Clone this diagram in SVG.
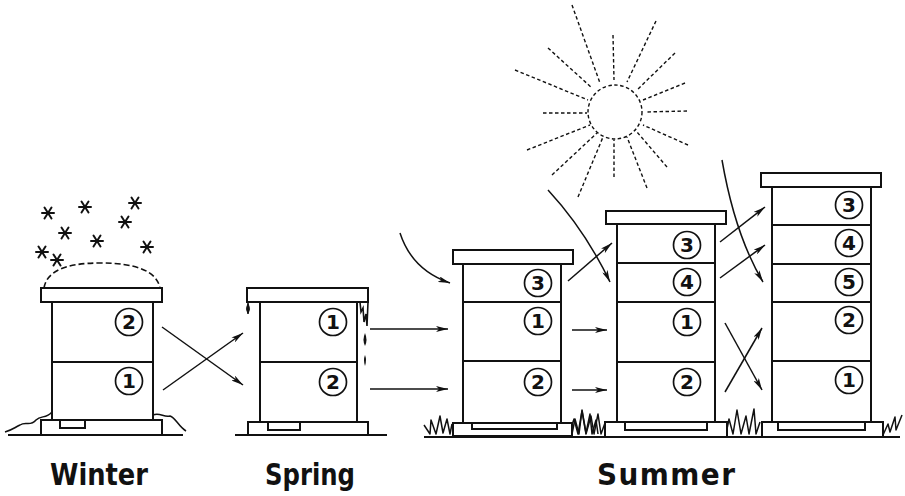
<svg xmlns="http://www.w3.org/2000/svg" width="905" height="496" viewBox="0 0 905 496">
  <style>
    .box { fill: #fff; stroke: #111; stroke-width: 2; }
    .ln { fill: none; stroke: #111; stroke-width: 2; }
    .arr { fill: none; stroke: #111; stroke-width: 1.5; marker-end: url(#ah); }
    .num-c { fill: #fff; stroke: #111; stroke-width: 1.7; }
    .num { font-family: "DejaVu Sans", "Liberation Sans", sans-serif; font-weight: bold; font-size: 20px; text-anchor: middle; fill: #111; }
    .ray { fill: none; stroke: #111; stroke-width: 1.4; stroke-dasharray: 3.5 2.5; }
    .grass { fill: none; stroke: #111; stroke-width: 1.5; stroke-linejoin: round; }
    .snow { fill: none; stroke: #111; stroke-width: 2; stroke-linecap: round; }
    .lbl { font-family: "DejaVu Sans Condensed", "DejaVu Sans", sans-serif; font-weight: bold; font-size: 31px; fill: #111; }
  </style>
  <defs>
    <marker id="ah" viewBox="0 0 12 6" refX="12" refY="3" markerWidth="12" markerHeight="6" markerUnits="userSpaceOnUse" orient="auto">
      <path d="M0,0 L12,3 L0,6 L3,3 z" fill="#111"/>
    </marker>
    <g id="flake">
      <path d="M-6,0 H6 M-3.5,-5.5 L3.5,5.5 M3.5,-5.5 L-3.5,5.5" class="snow"/>
    </g>
  </defs>

  <!-- snowfall above the winter hive -->
  <g id="snow">
    <use href="#flake" x="48" y="213"/>
    <use href="#flake" x="85" y="207"/>
    <use href="#flake" x="135" y="203"/>
    <use href="#flake" x="65" y="233"/>
    <use href="#flake" x="125" y="222"/>
    <use href="#flake" x="97" y="241"/>
    <use href="#flake" x="147" y="247"/>
    <use href="#flake" x="42" y="252"/>
    <use href="#flake" x="57" y="260"/>
  </g>

  <!-- sun -->
  <g id="sun">
    <circle cx="615" cy="112" r="27" class="ray"/>
    <path class="ray" d="M572,5 L600,83 M613,35 L614,80 M656,21 L627,82 M675,53 L637,90 M685,83 L643,100 M687,111 L645,112 M688,145 L643,125 M667,167 L637,132 M647,188 L627,137 M614,177 L614,140 M578,197 L603,137 M552,175 L597,133 M527,150 L590,125 M543,113 L587,113 M515,70 L588,100 M548,48 L592,88"/>
  </g>

  <!-- ground lines and grass -->
  <g id="ground">
    <path class="ln" d="M8,435 H183" stroke-width="1.6"/>
    <path class="grass" d="M5,432 C12,430 14,428 20,425 C26,421 30,427 36,420 C41,415 46,419 52,412"/>
    <path class="grass" d="M153,415 C160,412 164,418 170,416 C176,418 178,426 186,431"/>
    <path class="ln" d="M235,435 H387" stroke-width="1.6"/>
    <path class="ln" d="M424,437 H900" stroke-width="1.6"/>
    <path class="grass" d="M424,425 L430,434 L431,420 L436,434 L440,416 L443,433 L447,419 L450,434 L452,424"/>
    <path class="grass" d="M572,434 L575,419 L579,434 L582,410 L586,433 L590,414 L592,434 L596,420 L598,434"/>
    <path class="grass" d="M570,431 L574,419 L578,434 L582,411 L586,434 L591,416 L594,434 L598,414 L601,434 L605,423"/>
    <path class="grass" d="M726,434 L729,419 L733,434 L737,410 L741,434 L746,416 L749,434 L754,409 L756,434 L760,422"/>
    <path class="grass" d="M883,435 L888,424 L890,432 L895,417 L896,430 L902,415"/>
  </g>

  <!-- winter: two boxes under a snow-covered lid -->
  <g id="hive-winter">
    <path d="M44,288 Q48,263 100,263 Q155,263 160,288" fill="none" stroke="#111" stroke-width="1.6" stroke-dasharray="6 3"/>
    <rect class="box" x="41" y="288" width="121" height="14"/>
    <rect class="box" x="52" y="302" width="101" height="118"/>
    <path class="ln" d="M52,362 H153"/>
    <rect class="box" x="41" y="420" width="121" height="15"/>
    <rect class="box" x="60" y="420" width="25" height="8"/>
    <circle class="num-c" cx="129" cy="322" r="13.5"/><text class="num" x="129" y="329">2</text>
    <circle class="num-c" cx="129" cy="381" r="13.5"/><text class="num" x="129" y="388">1</text>
  </g>

  <!-- spring: boxes swapped, lid dripping -->
  <g id="hive-spring">
    <rect class="box" x="247" y="288" width="121" height="14"/>
    <rect class="box" x="260" y="302" width="97" height="120"/>
    <path class="ln" d="M260,362 H357"/>
    <rect class="box" x="248" y="422" width="120" height="13"/>
    <rect class="box" x="268" y="422" width="32" height="8"/>
    <path d="M248,303 Q245,309 248,314 Q251,309 248,303 z" fill="#111" stroke="#111" stroke-width="1"/>
    <path d="M360,302 L361,312 L363,308 L364,322 L366,314 L367,326 L368,302" fill="none" stroke="#111" stroke-width="1.6"/>
    <path d="M365,333 Q362,340 365,346 Q368,340 365,333 z" fill="#111"/>
    <path d="M365,355 Q363,360 365,366 Q367,360 365,355 z" fill="#111"/>
    <circle class="num-c" cx="333" cy="322" r="13.5"/><text class="num" x="333" y="329">1</text>
    <circle class="num-c" cx="333" cy="382" r="13.5"/><text class="num" x="333" y="389">2</text>
  </g>

  <!-- summer: first super added -->
  <g id="hive-summer-1">
    <rect class="box" x="453" y="250" width="120" height="14"/>
    <rect class="box" x="463" y="264" width="98" height="159"/>
    <path class="ln" d="M463,302 H561 M463,361 H561"/>
    <rect class="box" x="453" y="423" width="119" height="13"/>
    <path class="ln" d="M472,423 V429 H557 V423" stroke-width="1.6"/>
    <circle class="num-c" cx="538" cy="283" r="13.5"/><text class="num" x="538" y="290">3</text>
    <circle class="num-c" cx="538" cy="321" r="13.5"/><text class="num" x="538" y="328">1</text>
    <circle class="num-c" cx="538" cy="382" r="13.5"/><text class="num" x="538" y="389">2</text>
  </g>

  <!-- summer: second super added -->
  <g id="hive-summer-2">
    <rect class="box" x="606" y="211" width="120" height="13"/>
    <rect class="box" x="617" y="224" width="98" height="198"/>
    <path class="ln" d="M617,263 H715 M617,302 H715 M617,362 H715"/>
    <rect class="box" x="605" y="422" width="122" height="15"/>
    <path class="ln" d="M625,422 V430 H707 V422" stroke-width="1.6"/>
    <circle class="num-c" cx="687" cy="245" r="13.5"/><text class="num" x="687" y="252">3</text>
    <circle class="num-c" cx="687" cy="282" r="13.5"/><text class="num" x="687" y="289">4</text>
    <circle class="num-c" cx="687" cy="322" r="13.5"/><text class="num" x="687" y="329">1</text>
    <circle class="num-c" cx="687" cy="382" r="13.5"/><text class="num" x="687" y="389">2</text>
  </g>

  <!-- summer: third super added -->
  <g id="hive-summer-3">
    <rect class="box" x="761" y="173" width="120" height="14"/>
    <rect class="box" x="772" y="187" width="99" height="235"/>
    <path class="ln" d="M772,225 H871 M772,264 H871 M772,302 H871 M772,361 H871"/>
    <rect class="box" x="762" y="422" width="121" height="15"/>
    <path class="ln" d="M778,422 V430 H865 V422" stroke-width="1.6"/>
    <circle class="num-c" cx="849" cy="205" r="13.5"/><text class="num" x="849" y="212">3</text>
    <circle class="num-c" cx="849" cy="243" r="13.5"/><text class="num" x="849" y="250">4</text>
    <circle class="num-c" cx="849" cy="282" r="13.5"/><text class="num" x="849" y="289">5</text>
    <circle class="num-c" cx="849" cy="320" r="13.5"/><text class="num" x="849" y="327">2</text>
    <circle class="num-c" cx="849" cy="380" r="13.5"/><text class="num" x="849" y="387">1</text>
  </g>

  <!-- box movements between stages -->
  <g id="connectors">
    <path class="arr" d="M162,327 L243,385"/>
    <path class="arr" d="M163,390 L243,333"/>
    <path class="arr" d="M370,329 L448,329"/>
    <path class="arr" d="M370,389 L448,389"/>
    <path class="arr" d="M400,233 Q412,270 450,283"/>
    <path class="arr" d="M568,281 L612,243"/>
    <path class="arr" d="M548,190 Q585,230 610,282"/>
    <path class="arr" d="M572,330 L607,330"/>
    <path class="arr" d="M572,390 L607,390"/>
    <path class="arr" d="M720,242 L765,207"/>
    <path class="arr" d="M720,278 L765,245"/>
    <path class="arr" d="M722,160 Q735,235 763,282"/>
    <path class="arr" d="M725,323 L762,390"/>
    <path class="arr" d="M725,392 L762,328"/>
  </g>

  <!-- season labels -->
  <g id="labels">
    <text class="lbl" x="50" y="485" textLength="98" lengthAdjust="spacingAndGlyphs">Winter</text>
    <text class="lbl" x="265" y="485" textLength="90" lengthAdjust="spacingAndGlyphs">Spring</text>
    <text class="lbl" x="597" y="485" textLength="138" lengthAdjust="spacing">Summer</text>
  </g>
</svg>
